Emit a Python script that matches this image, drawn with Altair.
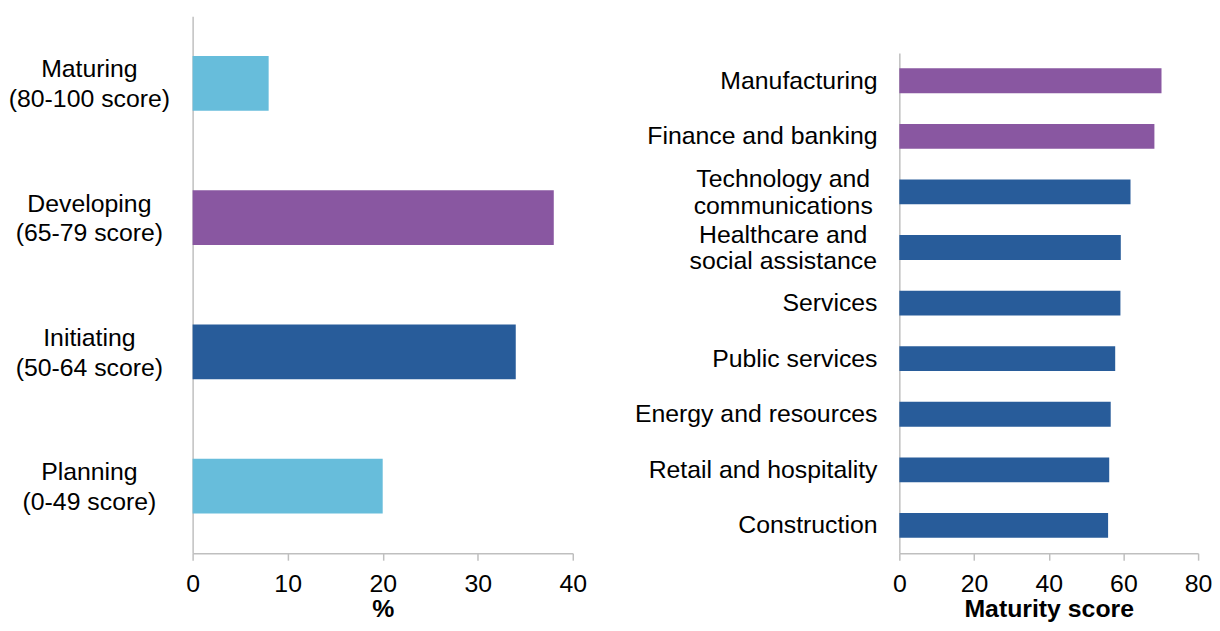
import altair as alt
import pandas as pd

# ---- data ----
stages = ["Maturing", "Developing", "Initiating", "Planning"]
stage_ranges = ["(80-100 score)", "(65-79 score)", "(50-64 score)", "(0-49 score)"]
stage_share = [8, 38, 34, 20]

sectors = [
    "Manufacturing",
    "Finance and banking",
    "Technology and|communications",
    "Healthcare and |social assistance",
    "Services",
    "Public services",
    "Energy and resources",
    "Retail and hospitality",
    "Construction",
]
sector_scores = [70.2, 68.3, 61.9, 59.3, 59.2, 57.8, 56.6, 56.2, 55.9]

FONT = "Liberation Sans, Arial, sans-serif"
AX = "#BFBFBF"
stage_colors = ["#67BDDB", "#8957A1", "#285C9A", "#67BDDB"]

color_scale = alt.Scale(domain=stages, range=stage_colors)

left_df = pd.DataFrame({
    "stage": stages,
    "label": [f"{s}|{r}" for s, r in zip(stages, stage_ranges)],
    "share": stage_share,
})
right_df = pd.DataFrame({"sector": sectors, "score": sector_scores})


def x_axis(values, title):
    return alt.Axis(
        values=values, title=title, grid=False,
        domainColor=AX, domainWidth=1.5, tickColor=AX, tickWidth=1.5, tickSize=7,
        labelFont=FONT, labelFontSize=25, labelColor="#000000", labelPadding=12,
        titleFont=FONT, titleFontSize=25, titleFontWeight="bold", titleColor="#000000",
        titlePadding=0, labelFlush=False,
    )


y_axis = alt.Axis(title=None, labels=False, ticks=False, domain=True,
                  domainColor=AX, domainWidth=1.5, grid=False)

# ---- left panel ----
yL = alt.Y("stage:N", sort=stages,
           scale=alt.Scale(paddingInner=0.593, paddingOuter=0.2965),
           axis=y_axis)
left_bars = alt.Chart(left_df).mark_bar().encode(
    x=alt.X("share:Q", scale=alt.Scale(domain=[0, 40]), axis=x_axis([0, 10, 20, 30, 40], "%")),
    y=yL,
    color=alt.Color("stage:N", scale=color_scale, legend=None),
)
left_labels = alt.Chart(left_df).mark_text(
    align="center", baseline="middle", lineBreak="|", fontSize=25, lineHeight=30,
    font=FONT, color="#000000", dy=-14,
).encode(y=yL, x=alt.value(-104), text="label:N")
left = alt.layer(left_bars, left_labels).properties(width=383, height=541)

# ---- right panel ----
yR = alt.Y("sector:N", sort=sectors,
           scale=alt.Scale(paddingInner=0.554, paddingOuter=0.277, range=[37, 541]),
           axis=y_axis)
right_base = alt.Chart(right_df).transform_calculate(
    stage="datum.score >= 65 ? 'Developing' : 'Initiating'"
)
right_bars = right_base.mark_bar().encode(
    x=alt.X("score:Q", scale=alt.Scale(domain=[0, 80]), axis=x_axis([0, 20, 40, 60, 80], "Maturity score")),
    y=yR,
    color=alt.Color("stage:N", scale=color_scale, legend=None),
)
right_single = right_base.transform_filter("indexof(datum.sector, '|') < 0").mark_text(
    align="right", baseline="middle", fontSize=25, font=FONT, color="#000000",
).encode(y=yR, x=alt.value(-22), text="sector:N")
right_multi = right_base.transform_filter("indexof(datum.sector, '|') >= 0").mark_text(
    align="center", baseline="middle", lineBreak="|", fontSize=25, lineHeight=27,
    font=FONT, color="#000000", dy=-13,
).encode(y=yR, x=alt.value(-117), text="sector:N")
right = alt.layer(right_bars, right_single, right_multi).properties(width=301, height=541)

chart = alt.hconcat(left, right, spacing=48).properties(
    padding={"left": 0, "top": 6, "right": 0, "bottom": -1},
    background="#ffffff",
).configure_view(stroke="transparent", strokeWidth=0)

chart.save("out.html", embed_options={"renderer": "svg", "actions": False})
